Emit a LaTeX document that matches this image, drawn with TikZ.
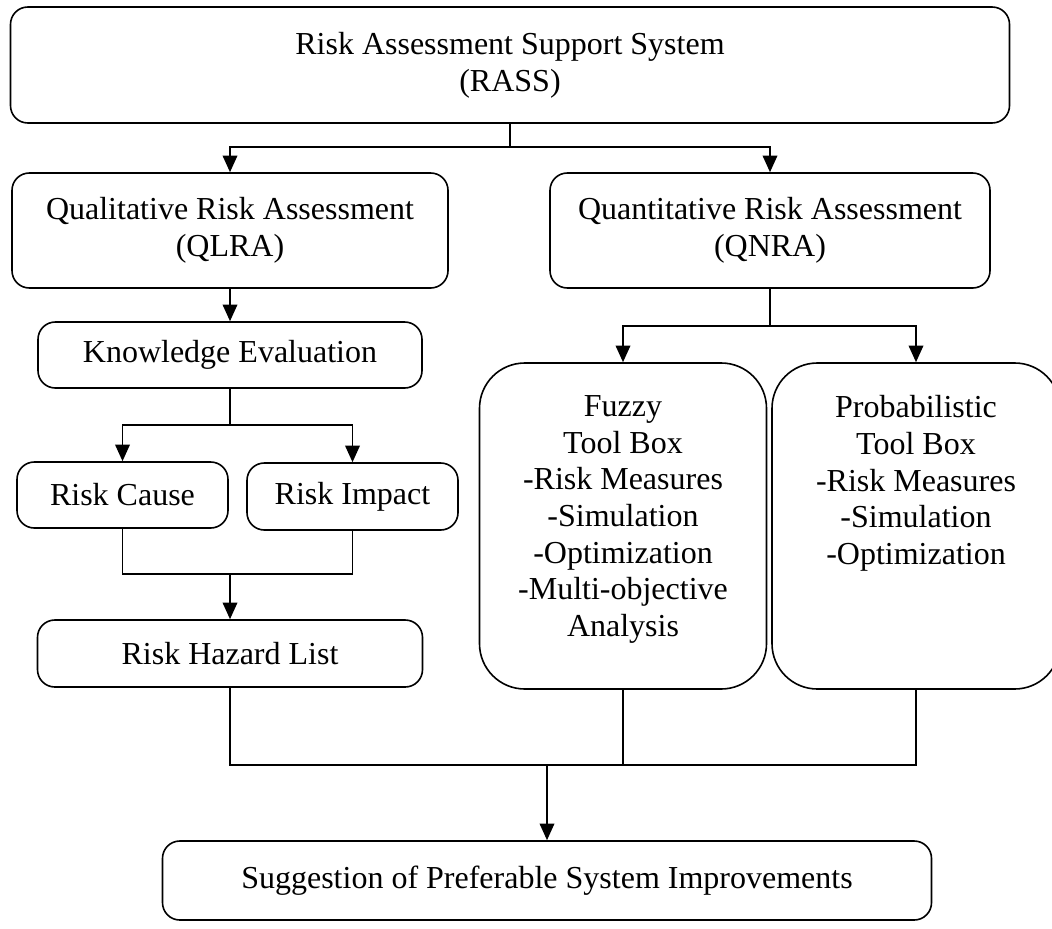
\documentclass[tikz,border=0pt]{standalone}
\usepackage{fontspec}
\setmainfont{Liberation Serif}
\usetikzlibrary{arrows.meta}
\begin{document}
\begin{tikzpicture}[x=0.75pt,y=-0.75pt, line width=1.2pt,
  box/.style={draw, rounded corners=13pt, align=center, inner sep=0pt,
    font=\fontsize{24}{27.5}\selectfont},
  bigbox/.style={draw, rounded corners=34pt, inner sep=0pt},
  txt/.style={align=center, inner sep=0pt, font=\fontsize{24}{27.5}\selectfont},
  arr/.style={-{Triangle[length=12.5pt,width=11pt]}}]
\useasboundingbox (0,0) rectangle (1052,928);

\node[box, minimum width=749.25pt, minimum height=87pt] (rass) at (510,65)
  {Risk Assessment Support System\\(RASS)};
\node[box, minimum width=327pt, minimum height=86.25pt] (qlra) at (230,230.5)
  {Qualitative Risk Assessment\\(QLRA)};
\node[box, minimum width=330pt, minimum height=86.25pt] (qnra) at (770,230.5)
  {Quantitative Risk Assessment\\(QNRA)};
\node[box, minimum width=288pt, minimum height=49.5pt] (ke) at (230,355)
  {Knowledge Evaluation};
\node[box, minimum width=158.25pt, minimum height=49.5pt] (cause) at (122.5,495)
  {Risk Cause};
\node[box, minimum width=158.25pt, minimum height=50.25pt] (impact) at (352.5,496.5)
  {Risk Impact};
\node[box, minimum width=288.75pt, minimum height=50.25pt] (rhl) at (230,653.5)
  {Risk Hazard List};
\node[bigbox, minimum width=215.25pt, minimum height=244.5pt] (fuzzy) at (623,526) {};
\node[bigbox, minimum width=216pt, minimum height=244.5pt] (prob) at (916,526) {};
\node[txt, anchor=north] (fuzzytxt) at ([yshift=-24.5pt]fuzzy.north)
  {Fuzzy\\Tool Box\\-Risk Measures\\-Simulation\\-Optimization\\-Multi-objective\\Analysis};
\node[txt, anchor=north] (probtxt) at ([yshift=-24.5pt]prob.north)
  {Probabilistic\\Tool Box\\-Risk Measures\\-Simulation\\-Optimization};
\node[box, minimum width=576.75pt, minimum height=59.25pt] (sugg) at (547,880.5)
  {Suggestion of Preferable System Improvements};

\coordinate (j1) at (510,147);
\coordinate (j2) at (230,425);
\coordinate (j3) at (230,574);
\coordinate (j4) at (770,326);
\coordinate (j5) at (547,765);

\draw (rass.south) -- (j1);
\draw[arr] (j1) -| (qlra.north);
\draw[arr] (j1) -| (qnra.north);
\draw[arr] (qlra.south) -- (ke.north);
\draw (ke.south) -- (j2);
\draw[arr] (j2) -| (cause.north);
\draw[arr] (j2) -| (impact.north);
\draw (cause.south) |- (j3);
\draw (impact.south) |- (j3);
\draw[arr] (j3) -- (rhl.north);
\draw (qnra.south) -- (j4);
\draw[arr] (j4) -| (fuzzy.north);
\draw[arr] (j4) -| (prob.north);
\draw (rhl.south) |- (j5);
\draw (fuzzy.south) |- (j5);
\draw (prob.south) |- (j5);
\draw[arr] (j5) -- (sugg.north);
\end{tikzpicture}
\end{document}
